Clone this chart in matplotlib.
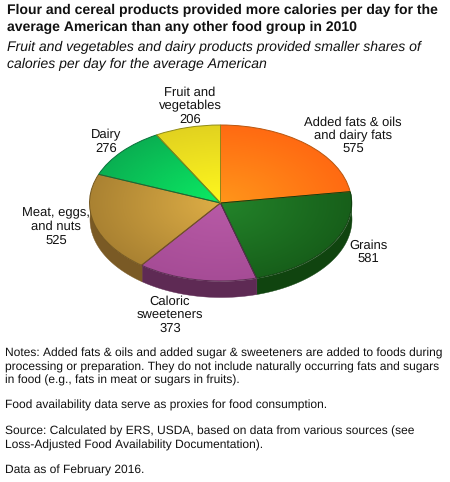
import numpy as np
import matplotlib
matplotlib.use("Agg")
import matplotlib.pyplot as plt
from matplotlib.colors import to_rgb

categories = ["Added fats & oils\nand dairy fats", "Grains", "Caloric\nsweeteners",
	"Meat, eggs,\nand nuts", "Dairy", "Fruit and\nvegetables"]
calories = [575, 581, 373, 525, 276, 206]

inner_colors = ["#ff961a", "#23842a", "#b85aa6", "#deae46", "#0aec64", "#fff81e"]
outer_colors = ["#ff6a12", "#175f1a", "#a64c96", "#aa8232", "#0ab052", "#e2d220"]
side_colors = ["#a84a10", "#10440f", "#5e2a54", "#7a5a25", "#0a7a3a", "#a09018"]
edge_colors = ["#b8560e", "#0e400e", "#5a2a50", "#75581f", "#0a703a", "#8f8a18"]

label_pos = [(353, 136), (368, 252), (170, 315), (56, 227), (106, 142), (190, 106)]

W, H = 450, 482
CX, CY, RX, RY = 220.5, 203, 131, 78
DEPTH = 16 / RY

plt.rcParams['font.family'] = ['Liberation Sans', 'DejaVu Sans']
plt.rcParams['text.hinting'] = 'none'
plt.rcParams['text.hinting_factor'] = 1
fig = plt.figure(figsize=(W / 100, H / 100), dpi=100)

ax = fig.add_axes([(CX - RX) / W, 1 - (CY + RY) / H, 2 * RX / W, 2 * RY / H])
wedges, _ = ax.pie(calories, startangle=90, counterclock=False, radius=1, colors=outer_colors)
ax.set_aspect('auto')

# side wall, only the front half is visible
total = sum(calories)
start = 0
for value, side in zip(calories, side_colors):
	end = start + value
	t = np.radians(np.linspace(90 - 360 * start / total, 90 - 360 * end / total, 80))
	keep = np.sin(t) <= 0.15
	if keep.any():
		ax.fill_between(np.cos(t[keep]), np.sin(t[keep]), np.sin(t[keep]) - DEPTH,
			color=side, lw=0.3, clip_on=False, zorder=0.5)
	start = end

# gradient on the top of each slice
gx, gy = np.meshgrid(np.linspace(-1, 1, 400), np.linspace(1, -1, 400))
gr = np.clip(np.hypot(gx, gy), 0, 1)[..., None]
for wedge, c0, c1, edge in zip(wedges, inner_colors, outer_colors, edge_colors):
	img = np.array(to_rgb(c0)) * (1 - gr) + np.array(to_rgb(c1)) * gr
	im = ax.imshow(img, extent=(-1, 1, -1, 1), aspect='auto', zorder=2, interpolation='bilinear')
	im.set_clip_path(wedge)
	wedge.set_facecolor('none')
	wedge.set_edgecolor(edge)
	wedge.set_linewidth(0.7)
	wedge.set_zorder(3)
	wedge.set_clip_on(False)
ax.set_xlim(-1, 1)
ax.set_ylim(-1, 1)
ax.set_aspect('auto')

bg = fig.add_axes([0, 0, 1, 1], zorder=5)
bg.set_xlim(0, W)
bg.set_ylim(H, 0)
bg.axis('off')
bg.patch.set_alpha(0)

for name, value, (x, y) in zip(categories, calories, label_pos):
	bg.text(x, y, name + "\n" + str(value), ha='center', va='center', fontsize=9.1,
		linespacing=1.16, color='#111111')

bg.text(7, 10, "Flour and cereal products provided more calories per day for the",
	fontsize=10.1, fontweight='bold', va='center', color='#111111')
bg.text(7, 27, "average American than any other food group in 2010",
	fontsize=10.1, fontweight='bold', va='center', color='#111111')
bg.text(7, 47, "Fruit and vegetables and dairy products provided smaller shares of",
	fontsize=10.3, fontstyle='italic', va='center', color='#111111')
bg.text(7, 64, "calories per day for the average American",
	fontsize=10.3, fontstyle='italic', va='center', color='#111111')

notes = [
	(353, "Notes: Added fats & oils and added sugar & sweeteners are added to foods during"),
	(367, "processing or preparation. They do not include naturally occurring fats and sugars"),
	(380, "in food (e.g., fats in meat or sugars in fruits)."),
	(405, "Food availability data serve as proxies for food consumption."),
	(431, "Source: Calculated by ERS, USDA, based on data from various sources (see"),
	(445, "Loss-Adjusted Food Availability Documentation)."),
	(470, "Data as of February 2016."),
]
for y, line in notes:
	bg.text(5, y, line, fontsize=8.85, va='center', color='#111111')

fig.savefig("out.png", dpi=100)
